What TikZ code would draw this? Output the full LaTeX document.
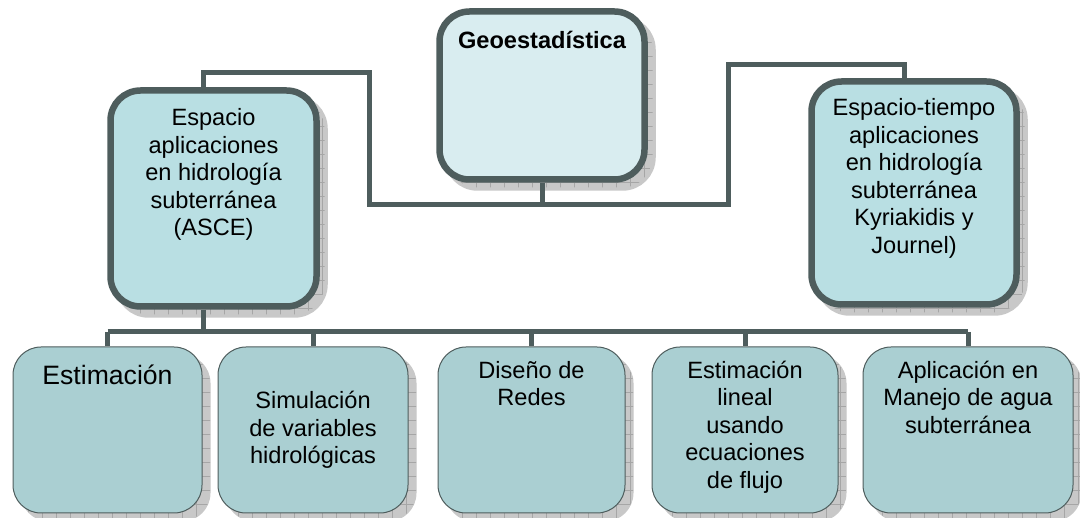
\documentclass[tikz,border=0pt]{standalone}
\usepackage{fontspec}
\setmainfont{Liberation Sans}
\usetikzlibrary{patterns.meta,positioning}
\definecolor{linea}{HTML}{4E5D5D}
\definecolor{geofill}{HTML}{D9EDF0}
\definecolor{espfill}{HTML}{B9DFE3}
\definecolor{hojafill}{HTML}{AACFD2}
\definecolor{sombra}{HTML}{C8C8C8}
\newcommand{\cajatop}[4]{\parbox[c][#2][t]{#1}{\vspace*{#3}\centering #4\par}}
\tikzset{sombra/.style={preaction={draw=sombra,fill=sombra,transform canvas={shift={(8pt,-8pt)}}},
                        preaction={pattern={Hatch[angle=0,distance=14pt,line width=0.5pt]},pattern color=black!35,transform canvas={shift={(8pt,-8pt)}}}},
         main box/.style={sombra,rectangle,rounded corners=30pt,draw=linea,line width=6.5pt,inner sep=0pt},
         leaf box/.style={sombra,rectangle,rounded corners=28pt,draw=linea,line width=1pt,fill=hojafill,inner sep=0pt},
         conn/.style={draw=linea,line width=5pt}
}

\begin{document}
\begin{tikzpicture}[x=1pt,y=-1pt,
font=\fontsize{23.6}{27.5}\selectfont]
\useasboundingbox (0,0) rectangle (1080,518);
% cajas de arriba
\node[main box,fill=geofill] (geo) at (542,95.5) {\cajatop{205pt}{168pt}{20pt}{\bfseries Geoestad\'istica}};
\node[main box,fill=espfill] (esp) at (213.5,198.5) {\cajatop{206pt}{216pt}{18pt}{Espacio\\aplicaciones\\en hidrolog\'ia\\subterr\'anea\\(ASCE)}};
\node[main box,fill=espfill] (espt) at (914,193) {\cajatop{205pt}{223pt}{17pt}{Espacio-tiempo\\aplicaciones\\en hidrolog\'ia\\subterr\'anea\\Kyriakidis y\\Journel)}};
% hojas
\node[leaf box] (est) at (107.5,430) {\cajatop{189pt}{166pt}{18pt}{\fontsize{26.6}{31}\selectfont Estimaci\'on}};
\node[leaf box] (sim) at (313,430) {\parbox[c][166pt][c]{190pt}{\centering Simulaci\'on\\de variables\\hidrol\'ogicas\par}};
\node[leaf box] (dis) at (531.5,430) {\cajatop{187pt}{166pt}{14pt}{Dise\~no de\\Redes}};
\node[leaf box] (lin) at (745,430) {\cajatop{186pt}{166pt}{14pt}{Estimaci\'on\\lineal\\usando\\ecuaciones\\de flujo}};
\node[leaf box] (apl) at (968,430) {\cajatop{210pt}{166pt}{14pt}{Aplicaci\'on en\\Manejo de agua\\subterr\'anea}};
% conectores
\coordinate (jl) at (369,205);
\coordinate (jr) at (728,205);
\coordinate (tl) at (203,73);
\coordinate (tr) at (904,65);
\coordinate (eb) at (203,332);
\draw[conn] (geo.south) -- (geo.south |- jl);
\draw[conn] (esp.north -| tl) -- (tl) -| (jl) -- (jr) |- (tr) -- (espt.north -| tr);
\draw[conn] (esp.south -| eb) -- (eb);
\draw[conn] (est.north |- eb) -- (apl.north |- eb);
\foreach \n in {est,sim,dis,lin,apl}
    \draw[conn] (\n.north |- eb) -- (\n.north);
\end{tikzpicture}
\end{document}
